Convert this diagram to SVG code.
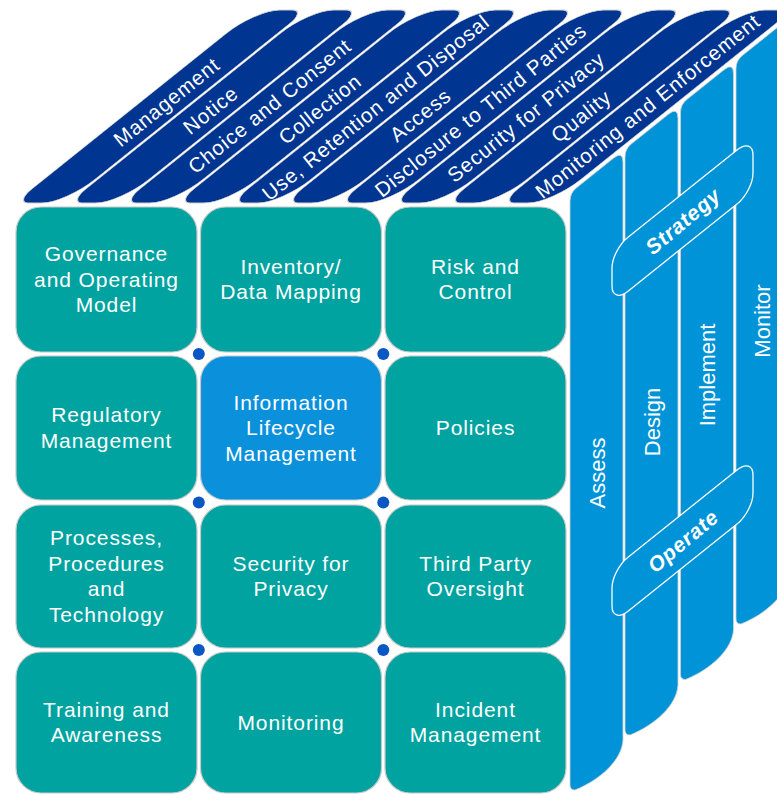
<svg xmlns="http://www.w3.org/2000/svg" width="777" height="794" viewBox="0 0 777 794">
<defs>
<style>
.tile{fill:#00a39f;stroke:#c8c8c8;stroke-width:1.2}
.hl{fill:#0b91db}
.tt{font-family:"Liberation Sans",Arial,sans-serif;font-size:21px;fill:#ffffff;text-anchor:middle;letter-spacing:0.9px}
.bar{fill:#003591;stroke:#d0d0d0;stroke-width:0.8;vector-effect:non-scaling-stroke}
.bt{font-family:"Liberation Sans",Arial,sans-serif;font-size:20.5px;fill:#ffffff;text-anchor:middle;letter-spacing:0.9px}
.face{fill:#0093d8;stroke:#d0d0d0;stroke-width:0.8}
.ft{font-family:"Liberation Sans",Arial,sans-serif;font-size:22px;fill:#ffffff;text-anchor:middle}
.band{fill:#0093d8;stroke:#ffffff;stroke-width:1.3;vector-effect:non-scaling-stroke}
.bd{font-family:"Liberation Sans",Arial,sans-serif;font-size:21px;font-weight:bold;font-style:italic;fill:#ffffff;text-anchor:middle;letter-spacing:0.8px}
.dot{fill:#0957c3}
</style>
<path id="barshape" d="M0,-72.5 A24,24 0 0 1 24,-96.5 L37,-96.5 A14,14 0 0 1 51,-82.5 L51,72.5 A24,24 0 0 1 27,96.5 L14,96.5 A14,14 0 0 1 0,82.5 Z"/>
</defs>
<rect width="777" height="794" fill="#ffffff"/>

<!-- right face: phases -->
<g id="phase-assess">
<path class="face" d="M570,201 Q570,193 576.25,188 L613.6,158.1 Q623,150.6 623,162.6 L623,740 C622,760 600,780 575,790 Q570,790 570,785 Z"/>
<text class="ft" transform="translate(604.7,473) rotate(-90)">Assess</text>
</g>
<g id="phase-design">
<path class="face" d="M625,157 Q625,149 631.25,144 L668.6,114.1 Q678,106.6 678,118.6 L678,685 C677,705 655,725 630,735 Q625,735 625,730 Z"/>
<text class="ft" transform="translate(659.7,422) rotate(-90)">Design</text>
</g>
<g id="phase-implement">
<path class="face" d="M680.5,112.6 Q680.5,104.6 686.75,99.6 L724.1,69.7 Q733.5,62.2 733.5,74.2 L733.5,629.5 C732.5,649.5 710.5,669.5 685.5,679.5 Q680.5,679.5 680.5,674.5 Z"/>
<text class="ft" transform="translate(714.7,375) rotate(-90)">Implement</text>
</g>
<g id="phase-monitor">
<path class="face" d="M736,68.6 Q736,60.6 742.25,55.6 L779.6,25.7 Q789,18.2 789,30.2 L789,574 C788,594 766,614 741,624 Q736,624 736,619 Z"/>
<text class="ft" transform="translate(769.7,321) rotate(-90)">Monitor</text>
</g>
<g id="band-strategy">
<rect class="band" transform="translate(612,250) skewY(-38.66)" x="0" y="0" width="141" height="54" rx="16" ry="18"/>
<text class="bd" transform="translate(683,221) rotate(-40)" y="7.4">Strategy</text>
</g>
<g id="band-operate">
<rect class="band" transform="translate(612,570) skewY(-38.66)" x="0" y="0" width="141" height="54" rx="16" ry="18"/>
<text class="bd" transform="translate(683,541) rotate(-40)" y="7.4">Operate</text>
</g>

<!-- top face: principles -->
<g id="principle-management">
<use href="#barshape" class="bar" transform="translate(0,106.5) skewX(-51.34) translate(135,0)"/>
<text class="bt" transform="translate(166.6,102) rotate(-38.66)" y="7.2">Management</text>
</g>
<g id="principle-notice">
<use href="#barshape" class="bar" transform="translate(0,106.5) skewX(-51.34) translate(189,0)"/>
<text class="bt" transform="translate(210.6,110) rotate(-38.66)" y="7.2">Notice</text>
</g>
<g id="principle-choice">
<use href="#barshape" class="bar" transform="translate(0,106.5) skewX(-51.34) translate(243,0)"/>
<text class="bt" transform="translate(269.6,106) rotate(-38.66)" y="7.2">Choice and Consent</text>
</g>
<g id="principle-collection">
<use href="#barshape" class="bar" transform="translate(0,106.5) skewX(-51.34) translate(297,0)"/>
<text class="bt" transform="translate(319.9,109) rotate(-38.66)" y="7.2">Collection</text>
</g>
<g id="principle-use">
<use href="#barshape" class="bar" transform="translate(0,106.5) skewX(-51.34) translate(351,0)"/>
<text class="bt" transform="translate(375.7,107.5) rotate(-38.66)" y="7.2">Use, Retention and Disposal</text>
</g>
<g id="principle-access">
<use href="#barshape" class="bar" transform="translate(0,106.5) skewX(-51.34) translate(405,0)"/>
<text class="bt" transform="translate(420.4,115) rotate(-38.66)" y="7.2">Access</text>
</g>
<g id="principle-disclosure">
<use href="#barshape" class="bar" transform="translate(0,106.5) skewX(-51.34) translate(459,0)"/>
<text class="bt" transform="translate(480.6,110) rotate(-38.66)" y="7.2">Disclosure to Third Parties</text>
</g>
<g id="principle-security">
<use href="#barshape" class="bar" transform="translate(0,106.5) skewX(-51.34) translate(513,0)"/>
<text class="bt" transform="translate(525.9,117) rotate(-38.66)" y="7.2">Security for Privacy</text>
</g>
<g id="principle-quality">
<use href="#barshape" class="bar" transform="translate(0,106.5) skewX(-51.34) translate(567,0)"/>
<text class="bt" transform="translate(581.1,116) rotate(-38.66)" y="7.2">Quality</text>
</g>
<g id="principle-monitoring">
<use href="#barshape" class="bar" transform="translate(0,106.5) skewX(-51.34) translate(621,0)"/>
<text class="bt" transform="translate(647.6,106) rotate(-38.66)" y="7.2">Monitoring and Enforcement</text>
</g>

<!-- front face: tiles -->
<g id="tile-governance">
<rect class="tile" x="16" y="207" width="181" height="145" rx="25"/>
<text class="tt" x="106.5" y="261">Governance</text>
<text class="tt" x="106.5" y="286.5">and Operating</text>
<text class="tt" x="106.5" y="312">Model</text>
</g>
<g id="tile-inventory">
<rect class="tile" x="200.5" y="207" width="181" height="145" rx="25"/>
<text class="tt" x="291" y="273.8">Inventory/</text>
<text class="tt" x="291" y="299.3">Data Mapping</text>
</g>
<g id="tile-risk">
<rect class="tile" x="385" y="207" width="181" height="145" rx="25"/>
<text class="tt" x="475.5" y="273.8">Risk and</text>
<text class="tt" x="475.5" y="299.3">Control</text>
</g>
<g id="tile-regulatory">
<rect class="tile" x="16" y="356" width="181" height="144" rx="25"/>
<text class="tt" x="106.5" y="422.3">Regulatory</text>
<text class="tt" x="106.5" y="447.8">Management</text>
</g>
<g id="tile-lifecycle">
<rect class="tile hl" x="200.5" y="356" width="181" height="144" rx="25"/>
<text class="tt" x="291" y="409.5">Information</text>
<text class="tt" x="291" y="435">Lifecycle</text>
<text class="tt" x="291" y="460.5">Management</text>
</g>
<g id="tile-policies">
<rect class="tile" x="385" y="356" width="181" height="144" rx="25"/>
<text class="tt" x="475.5" y="435">Policies</text>
</g>
<g id="tile-processes">
<rect class="tile" x="16" y="505" width="181" height="143" rx="25"/>
<text class="tt" x="106.5" y="545.3">Processes,</text>
<text class="tt" x="106.5" y="570.8">Procedures</text>
<text class="tt" x="106.5" y="596.3">and</text>
<text class="tt" x="106.5" y="621.8">Technology</text>
</g>
<g id="tile-security">
<rect class="tile" x="200.5" y="505" width="181" height="143" rx="25"/>
<text class="tt" x="291" y="570.8">Security for</text>
<text class="tt" x="291" y="596.3">Privacy</text>
</g>
<g id="tile-thirdparty">
<rect class="tile" x="385" y="505" width="181" height="143" rx="25"/>
<text class="tt" x="475.5" y="570.8">Third Party</text>
<text class="tt" x="475.5" y="596.3">Oversight</text>
</g>
<g id="tile-training">
<rect class="tile" x="16" y="652" width="181" height="141" rx="25"/>
<text class="tt" x="106.5" y="716.8">Training and</text>
<text class="tt" x="106.5" y="742.3">Awareness</text>
</g>
<g id="tile-monitoring">
<rect class="tile" x="200.5" y="652" width="181" height="141" rx="25"/>
<text class="tt" x="291" y="729.5">Monitoring</text>
</g>
<g id="tile-incident">
<rect class="tile" x="385" y="652" width="181" height="141" rx="25"/>
<text class="tt" x="475.5" y="716.8">Incident</text>
<text class="tt" x="475.5" y="742.3">Management</text>
</g>

<g id="junctions">
<circle class="dot" cx="198.8" cy="354" r="6"/>
<circle class="dot" cx="383.3" cy="354" r="6"/>
<circle class="dot" cx="198.8" cy="502.5" r="6"/>
<circle class="dot" cx="383.3" cy="502.5" r="6"/>
<circle class="dot" cx="198.8" cy="650" r="6"/>
<circle class="dot" cx="383.3" cy="650" r="6"/>
</g>
</svg>
